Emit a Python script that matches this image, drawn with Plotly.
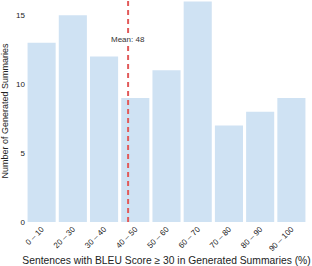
import plotly.graph_objects as go

categories = ["0 – 10", "20 – 30", "30 – 40", "40 – 50", "50 – 60",
              "60 – 70", "70 – 80", "80 – 90", "90 – 100"]
counts = [13, 15, 12, 9, 11, 16, 7, 8, 9]
mean_value = 48
mean_label = "Mean: 48"
mean_pos = 2.77  # position on the categorical axis

fig = go.Figure()
fig.add_trace(go.Bar(x=list(range(len(categories))), y=counts,
                     marker=dict(color="rgb(207,226,243)", line=dict(width=0)),
                     showlegend=False))

fig.add_shape(type="line", xref="x", yref="paper", x0=mean_pos, x1=mean_pos,
              y0=0, y1=1.01, line=dict(color="rgb(226,90,90)", width=2, dash="5px,4px"))
fig.add_annotation(x=mean_pos, y=13.2, xref="x", yref="y", text=mean_label,
                   showarrow=False, font=dict(size=8, color="#333"),
                   bgcolor="white", borderpad=0)

fig.update_layout(
    width=312, height=266,
    margin=dict(l=26, r=5, t=0, b=44),
    paper_bgcolor="white", plot_bgcolor="white",
    bargap=0.1,
    font=dict(family="Liberation Sans, Arial, sans-serif", size=8, color="#222"),
    xaxis=dict(tickmode="array", tickvals=list(range(len(categories))),
               ticktext=categories, tickangle=-45, range=[-0.5, 8.5],
               showgrid=False, zeroline=False, showline=False, ticks="",
               automargin=False,
               title=dict(text="Sentences with BLEU Score ≥ 30 in Generated Summaries (%)",
                          font=dict(size=10.3)),
               tickfont=dict(size=8)),
    yaxis=dict(range=[0, 16.1], dtick=5, showgrid=False, zeroline=False,
               showline=False, ticks="", automargin=False,
               title=dict(text="Number of Generated Summaries", font=dict(size=9)),
               tickfont=dict(size=8)),
)

fig.write_html("out.html", config={"displayModeBar": False},
               post_script="document.body.style.margin='0';document.body.style.padding='0';")
